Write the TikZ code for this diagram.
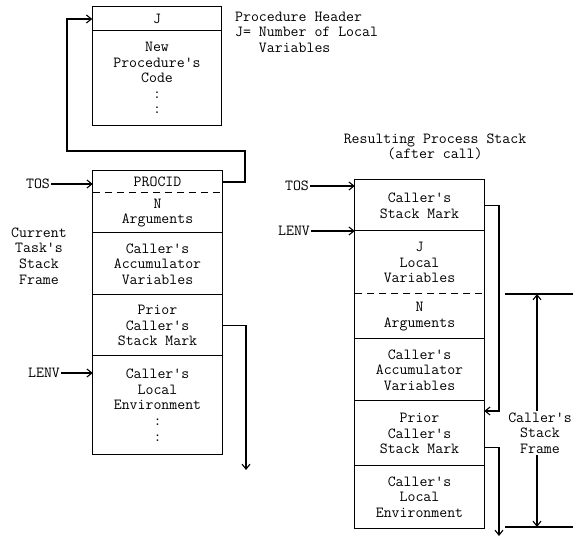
\documentclass[tikz,border=0pt]{standalone}
\usepackage{fontspec}
\usetikzlibrary{arrows.meta}
\newcommand{\stackfont}{\ttfamily\fontsize{15.4}{15.6}\selectfont}
\tikzset{
  stackcell/.style={minimum width=129pt,inner sep=0pt,align=center,font=\stackfont},
  stackline/.style={line width=1.1pt},
  dashline/.style={line width=1.1pt,dash pattern=on 7pt off 5pt},
  tag/.style={font=\stackfont,inner sep=1pt},
  note/.style={font=\stackfont,inner sep=1pt,align=center},
  ptr/.style={line width=1.1pt,-{Straight Barb[length=5pt,width=8pt]}}
}
\begin{document}
\begin{tikzpicture}[x=1pt,y=-1pt]
  \useasboundingbox (0,0) rectangle (580,537);
  \node[stackcell,minimum height=24pt] (hdr) at (157,19) {J};
  \node[stackcell,minimum height=94pt] (code) at (157,78) {New\\Procedure's\\Code\\:\\:};
  \draw[stackline] (hdr.north west) rectangle (code.south east);
  \draw[stackline] (code.north west) -- (code.north east);
  \node[note,align=left,anchor=west] (hdrnote) at (234,32) {Procedure Header\\J= Number of Local\\\hphantom{J= }Variables};

  \node[stackcell,minimum height=22pt] (procidL) at (157.5,182) {PROCID};
  \node[stackcell,minimum height=40pt] (argsL) at (157.5,213) {N\\Arguments};
  \node[stackcell,minimum height=62pt] (accumL) at (157.5,264) {Caller's\\Accumulator\\Variables};
  \node[stackcell,minimum height=61pt] (priorL) at (157.5,325.5) {Prior\\Caller's\\Stack Mark};
  \node[stackcell,minimum height=98pt] (envL) at (157.5,405) {Caller's\\Local\\Environment\\:\\:};
  \draw[stackline] (procidL.north west) rectangle (envL.south east);
  \draw[dashline] (argsL.north west) -- (argsL.north east);
  \foreach \c in {accumL,priorL,envL}
    \draw[stackline] (\c.north west) -- (\c.north east);
  \node[note] (taskL) at (39,256) {Current\\Task's\\Stack\\Frame};
  \node[tag] (tosL) at (38,184) {TOS};
  \node[tag] (lenvL) at (44,373) {LENV};
  \draw[ptr] (tosL.east) -- (tosL.east -| procidL.west);
  \draw[ptr] (lenvL.east) -- (lenvL.east -| envL.west);

  \coordinate (loopR) at (245,151);
  \coordinate (loopL) at (67,151);
  \draw[ptr] (procidL.east) -| (loopR) -- (loopL) |- (hdr.west);
  \coordinate (priorLend) at (246,470);
  \draw[ptr] (priorL.east) -| (priorLend);

  \node[note] (resultR) at (435,147) {Resulting Process Stack\\(after call)};
  \node[stackcell,minimum height=51pt] (markR) at (419.5,205.5) {Caller's\\Stack Mark};
  \node[stackcell,minimum height=63pt] (localsR) at (419.5,262.5) {J\\Local\\Variables};
  \node[stackcell,minimum height=45pt] (argsR) at (419.5,316.5) {N\\Arguments};
  \node[stackcell,minimum height=62pt] (accumR) at (419.5,370) {Caller's\\Accumulator\\Variables};
  \node[stackcell,minimum height=65pt] (priorR) at (419.5,433.5) {Prior\\Caller's\\Stack Mark};
  \node[stackcell,minimum height=62pt] (envR) at (419.5,497) {Caller's\\Local\\Environment};
  \draw[stackline] (markR.north west) rectangle (envR.south east);
  \draw[dashline] (argsR.north west) -- (argsR.north east);
  \foreach \c in {localsR,accumR,priorR,envR}
    \draw[stackline] (\c.north west) -- (\c.north east);
  \node[tag] (tosR) at (297,186) {TOS};
  \node[tag] (lenvR) at (294,231) {LENV};
  \draw[ptr] (tosR.east) -- (tosR.east -| markR.west);
  \draw[ptr] (lenvR.east) -- (lenvR.east -| localsR.west);

  \coordinate (markdrop) at (499,411);
  \draw[ptr] (markR.east) -| (markdrop) -- (markdrop -| priorR.east);
  \coordinate (priorRend) at (499,536);
  \draw[ptr] ([yshift=-14pt]priorR.east) -| (priorRend);

  \coordinate (frameTL) at (505,294);
  \coordinate (frameTR) at (573,294);
  \coordinate (frameBL) at (505,527);
  \coordinate (frameBR) at (573,527);
  \draw[stackline] (frameTL) -- (frameTR);
  \draw[stackline] (frameBL) -- (frameBR);
  \node[note] (frameR) at (540,433) {Caller's\\Stack\\Frame};
  \coordinate (frameTop) at (537,294);
  \coordinate (frameBot) at (537,527);
  \draw[ptr] (frameTop |- frameR.north) -- (frameTop);
  \draw[ptr] (frameBot |- frameR.south) -- (frameBot);
\end{tikzpicture}
\end{document}
